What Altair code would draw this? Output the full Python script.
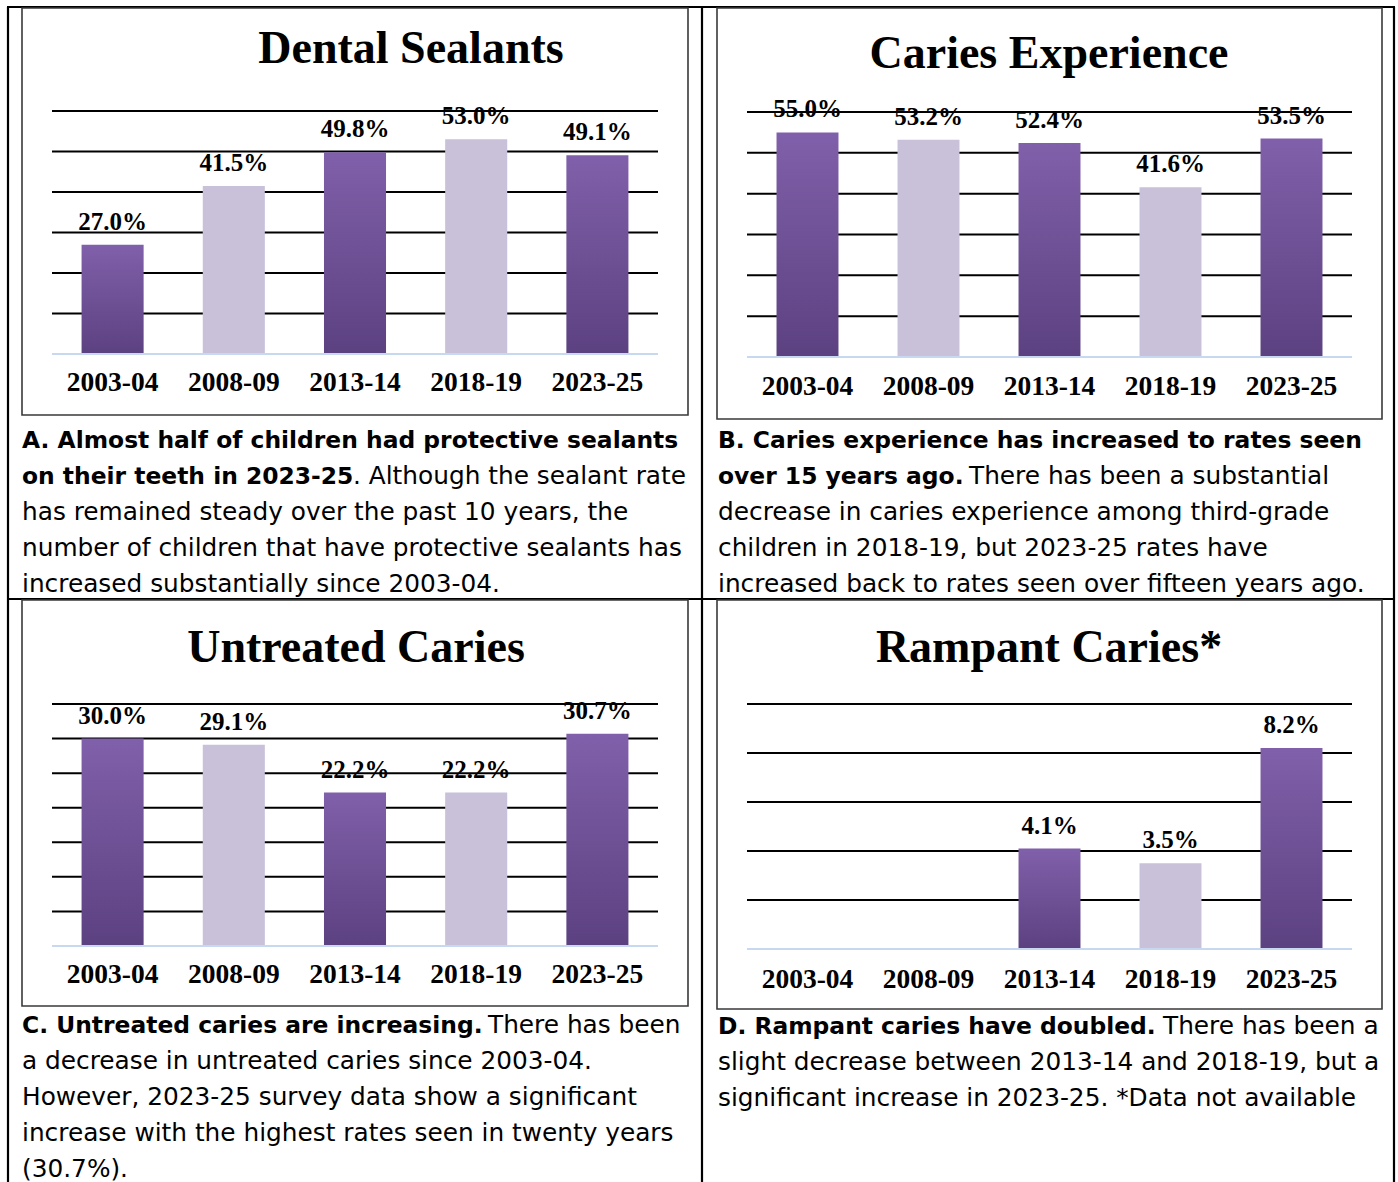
import altair as alt
import pandas as pd

# ---------------- data ----------------
periods = ["2003-04", "2008-09", "2013-14", "2018-19", "2023-25"]
sealants = [27.0, 41.5, 49.8, 53.0, 49.1]
caries_experience = [55.0, 53.2, 52.4, 41.6, 53.5]
untreated_caries = [30.0, 29.1, 22.2, 22.2, 30.7]
rampant_caries = [None, None, 4.1, 3.5, 8.2]

titles = ["Dental Sealants", "Caries Experience", "Untreated Caries", "Rampant Caries*"]
axis_max = [60, 60, 35, 10]
axis_step = [10, 10, 5, 2]

captions = [
    [  # A
        [("A. Almost half of children had protective sealants", True)],
        [("on their teeth in 2023-25", True), (". Although the sealant rate", False)],
        [("has remained steady over the past 10 years, the", False)],
        [("number of children that have protective sealants has", False)],
        [("increased substantially since 2003-04.", False)],
    ],
    [  # B
        [("B. Caries experience has increased to rates seen", True)],
        [("over 15 years ago.", True), ("There has been a substantial", False)],
        [("decrease in caries experience among third-grade", False)],
        [("children in 2018-19, but 2023-25 rates have", False)],
        [("increased back to rates seen over fifteen years ago.", False)],
    ],
    [  # C
        [("C. Untreated caries are increasing.", True), ("There has been", False)],
        [("a decrease in untreated caries since 2003-04.", False)],
        [("However, 2023-25 survey data show a significant", False)],
        [("increase with the highest rates seen in twenty years", False)],
        [("(30.7%).", False)],
    ],
    [  # D
        [("D. Rampant caries have doubled.", True), ("There has been a", False)],
        [("slight decrease between 2013-14 and 2018-19, but a", False)],
        [("significant increase in 2023-25. *Data not available", False)],
    ],
]

series = [sealants, caries_experience, untreated_caries, rampant_caries]

# ---------------- layout (pixels) ----------------
W, H = 1398, 1182
layout = [
    dict(x0=52, x1=658, yb=354, yt=111, tx=411, ty=63, cy=391,
         box=(22, 8, 688, 415), cap_x=22, cap_y=448, cont=[None, 353, None, None, None]),
    dict(x0=747, x1=1352, yb=357, yt=112, tx=1049, ty=68, cy=395,
         box=(717, 8, 1382, 419), cap_x=718, cap_y=448, cont=[None, 969, None, None, None]),
    dict(x0=52, x1=658, yb=946, yt=704, tx=356, ty=662, cy=983,
         box=(22, 600, 688, 1006), cap_x=22, cap_y=1033, cont=[488, None, None, None, None]),
    dict(x0=747, x1=1352, yb=949, yt=704, tx=1049, ty=662, cy=988,
         box=(717, 600, 1382, 1009), cap_x=718, cap_y=1034, cont=[1163, None, None]),
]
line_gap = 36

SERIF = "Liberation Serif"
SANS = "DejaVu Sans"
CAP_SIZE_REG = 24.8
CAP_SIZE_BOLD = 23.4

grad_dark = alt.Gradient(
    gradient="linear",
    stops=[alt.GradientStop(color="#8060aa", offset=0),
           alt.GradientStop(color="#5c4181", offset=1)],
    x1=0, x2=0, y1=0, y2=1,
)
LIGHT = "#c9c0da"
BASE_BLUE = "#c6d9f1"

one = pd.DataFrame({"a": [0]})
layers = []

# table lines
def rule(x, x2, y, y2, w=2.2, color="black"):
    return alt.Chart(one).mark_rule(color=color, strokeWidth=w).encode(
        x=alt.value(x), x2=alt.value(x2), y=alt.value(y), y2=alt.value(y2))

layers += [
    rule(7, 1395, 7, 7),
    rule(7, 1395, 599, 599),
    rule(8, 8, 7, H),
    rule(702, 702, 7, H),
    rule(1394, 1394, 7, H),
]

for i, lay in enumerate(layout):
    vals = series[i]
    df = pd.DataFrame({
        "period": periods,
        "value": vals,
        "shade": ["dark" if k % 2 == 0 else "light" for k in range(len(periods))],
    })
    xs = alt.Scale(domain=periods, range=[lay["x0"], lay["x1"]],
                   paddingInner=0.488, paddingOuter=0.244)
    ys = alt.Scale(domain=[0, axis_max[i]], range=[lay["yb"], lay["yt"]], nice=False, zero=True)

    X = alt.X("period:N", scale=xs, axis=None, sort=periods)

    # chart box
    bx = lay["box"]
    layers.append(
        alt.Chart(one).mark_rect(fillOpacity=0, stroke="#3a3a3a", strokeWidth=1.6).encode(
            x=alt.value(bx[0]), x2=alt.value(bx[2]), y=alt.value(bx[1]), y2=alt.value(bx[3]))
    )

    # gridlines
    grid = pd.DataFrame({"g": list(range(axis_step[i], axis_max[i] + 1, axis_step[i]))})
    layers.append(
        alt.Chart(grid).mark_rule(color="black", strokeWidth=2).encode(
            y=alt.Y("g:Q", scale=ys, axis=None),
            x=alt.value(lay["x0"]), x2=alt.value(lay["x1"]))
    )

    # bars
    layers.append(
        alt.Chart(df).transform_filter("datum.shade == 'dark' && isValid(datum.value)")
        .mark_bar(color=grad_dark).encode(x=X, y=alt.Y("value:Q", scale=ys, axis=None))
    )
    layers.append(
        alt.Chart(df).transform_filter("datum.shade == 'light' && isValid(datum.value)")
        .mark_bar(color=LIGHT).encode(x=X, y=alt.Y("value:Q", scale=ys, axis=None))
    )

    # baseline
    layers.append(
        alt.Chart(pd.DataFrame({"g": [0]})).mark_rule(color=BASE_BLUE, strokeWidth=2).encode(
            y=alt.Y("g:Q", scale=ys, axis=None),
            x=alt.value(lay["x0"]), x2=alt.value(lay["x1"]))
    )

    # data labels
    layers.append(
        alt.Chart(df).transform_filter("isValid(datum.value)")
        .transform_calculate(lbl="format(datum.value, '.1f') + '%'")
        .mark_text(font=SERIF, fontWeight="bold", fontSize=25, baseline="alphabetic",
                   dy=-15, color="black")
        .encode(x=X, y=alt.Y("value:Q", scale=ys, axis=None), text="lbl:N")
    )

    # category labels
    layers.append(
        alt.Chart(pd.DataFrame({"period": periods}))
        .mark_text(font=SERIF, fontWeight="bold", fontSize=27.5, baseline="alphabetic", color="black")
        .encode(x=X, y=alt.value(lay["cy"]), text="period:N")
    )

    # title
    layers.append(
        alt.Chart(pd.DataFrame({"t": [titles[i]]}))
        .mark_text(font=SERIF, fontWeight="bold", fontSize=46, baseline="alphabetic", color="black")
        .encode(x=alt.value(lay["tx"]), y=alt.value(lay["ty"]), text="t:N")
    )

    # captions
    for li, parts in enumerate(captions[i]):
        y = lay["cap_y"] + li * line_gap
        for pi, (txt, bold) in enumerate(parts):
            x = lay["cap_x"] if pi == 0 else lay["cont"][li]
            layers.append(
                alt.Chart(pd.DataFrame({"t": [txt]}))
                .mark_text(font=SANS, fontWeight="bold" if bold else "normal",
                           fontSize=CAP_SIZE_BOLD if bold else CAP_SIZE_REG,
                           align="left", baseline="alphabetic", color="black")
                .encode(x=alt.value(x), y=alt.value(y), text="t:N")
            )

chart = (
    alt.layer(*layers)
    .resolve_scale(x="independent", y="independent")
    .properties(width=W, height=H, autosize=alt.AutoSizeParams(type="none"), padding=0,
                background="white")
    .configure_view(stroke=None)
)

chart.save("out.html", embed_options={"renderer": "svg", "actions": False})
